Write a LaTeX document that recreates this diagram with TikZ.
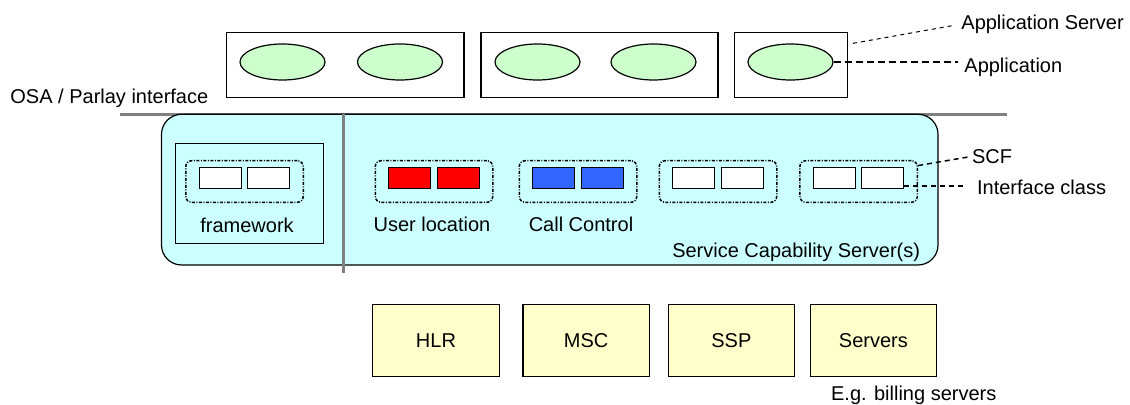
\documentclass[tikz,border=0pt]{standalone}
\usepackage{fontspec}
\setmainfont{Liberation Sans}
\usetikzlibrary{shapes.geometric}
\definecolor{appgreen}{HTML}{CCFFCC}
\definecolor{scscyan}{HTML}{CCFFFF}
\definecolor{netyellow}{HTML}{FFFFCC}
\definecolor{ifred}{HTML}{FF0000}
\definecolor{ifblue}{HTML}{3366FF}
\definecolor{osagray}{HTML}{808080}
\tikzset{
  lbl/.style={inner sep=0pt,font=\fontsize{10}{12}\selectfont},
  asbox/.style={draw=black,line width=0.6pt,minimum height=32.5pt,inner sep=0pt},
  app/.style={ellipse,draw=black,line width=0.6pt,fill=appgreen,minimum width=42.5pt,minimum height=18pt,inner sep=0pt},
  scfgroup/.style={draw=black,line width=0.75pt,rounded corners=3pt,
    dash pattern=on 1.5pt off 0.75pt on 0.5pt off 0.75pt,minimum width=58.75pt,minimum height=20.8pt,inner sep=0pt},
  ifclass/.style={draw=black,line width=0.6pt,minimum width=21pt,minimum height=10.5pt,inner sep=0pt},
  netbox/.style={draw=black,line width=0.6pt,fill=netyellow,minimum width=63.3pt,minimum height=36pt,inner sep=0pt,
    font=\fontsize{10}{12}\selectfont},
  osaline/.style={draw=osagray,line width=1.5pt},
}
% one SCF: dotted group with two interface classes
\newcommand{\scf}[3]{%
  \node[scfgroup] (#1) at (#2,181.5) {};
  \node[ifclass,fill=#3] (#1l) at (#2-24.2,178.2) {};
  \node[ifclass,fill=#3] (#1r) at (#2+24.2,178.2) {};
}
\begin{document}
\begin{tikzpicture}[x=0.5pt,y=-0.5pt]
  \useasboundingbox (0,0) rectangle (1130,405);
  % application servers
  \node[asbox,minimum width=118.75pt] (as1) at (345.25,65) {};
  \node[asbox,minimum width=118.5pt] (as2) at (599.5,65) {};
  \node[asbox,minimum width=56.5pt] (as3) at (791,65) {};
  \node[app] (app1) at (282.5,62) {};
  \node[app] (app2) at (400,62) {};
  \node[app] (app3) at (537.5,62) {};
  \node[app] (app4) at (653.5,62) {};
  \node[app] (app5) at (790.5,62) {};
  \node[lbl,anchor=base west] (osalbl) at (10,103.3) {OSA / Parlay interface};
  % interface line and SCS
  \draw[osaline] (120,114.3) -- (1007,114.3);
  \node[draw=black,line width=0.6pt,fill=scscyan,rounded corners=10pt,
    minimum width=388.25pt,minimum height=75.35pt,inner sep=0pt] (scs) at (549.75,189.65) {};
  \draw[osaline] (343.3,114.3) -- (343.3,273.3);
  \node[draw=black,line width=0.6pt,minimum width=74pt,minimum height=50pt,inner sep=0pt] (fw) at (249.3,193.3) {};
  \scf{fwg}{244.5}{white}
  \scf{ulg}{434}{ifred}
  \scf{ccg}{578}{ifblue}
  \scf{g3}{718}{white}
  \scf{g4}{858.6}{white}
  \node[lbl,anchor=base] (fwlbl) at (247,232.7) {framework};
  \node[lbl,anchor=base] (ullbl) at (432,231.7) {User location};
  \node[lbl,anchor=base] (cclbl) at (581,231.7) {Call Control};
  \node[lbl,anchor=base east] (scslbl) at (920.5,257.7) {Service Capability Server(s)};
  % network elements
  \node[netbox] (hlr) at (436,340.7) {HLR};
  \node[netbox] (msc) at (586.2,340.7) {MSC};
  \node[netbox] (ssp) at (731.4,340.7) {SSP};
  \node[netbox] (srv) at (873.4,340.7) {Servers};
  \node[lbl,anchor=base west] (billlbl) at (830.7,401) {E.g. billing servers};
  % callouts
  \node[lbl,anchor=base west] (asrvlbl) at (961,29.3) {Application Server};
  \node[lbl,anchor=base west] (applbl) at (964,72.7) {Application};
  \node[lbl,anchor=base west] (scflbl) at (971.7,163.3) {SCF};
  \node[lbl,anchor=base west] (ifclbl) at (976.7,194.3) {Interface class};
  \draw[line width=0.5pt,dash pattern=on 2pt off 2pt,shorten <=2.5pt,shorten >=4pt] (as3.20) -- (asrvlbl.west);
  \draw[line width=1.15pt,dash pattern=on 3.5pt off 2pt,shorten >=3pt] (app5.east) -- (app5.east -| applbl.west);
  \draw[line width=0.75pt,dash pattern=on 2.5pt off 2pt,shorten >=2pt] (g4.15) -- (scflbl.west);
  \draw[line width=0.75pt,dash pattern=on 2.5pt off 2pt,shorten >=6pt] (g4r.-20) -- (g4r.-20 -| ifclbl.west);
\end{tikzpicture}
\end{document}
